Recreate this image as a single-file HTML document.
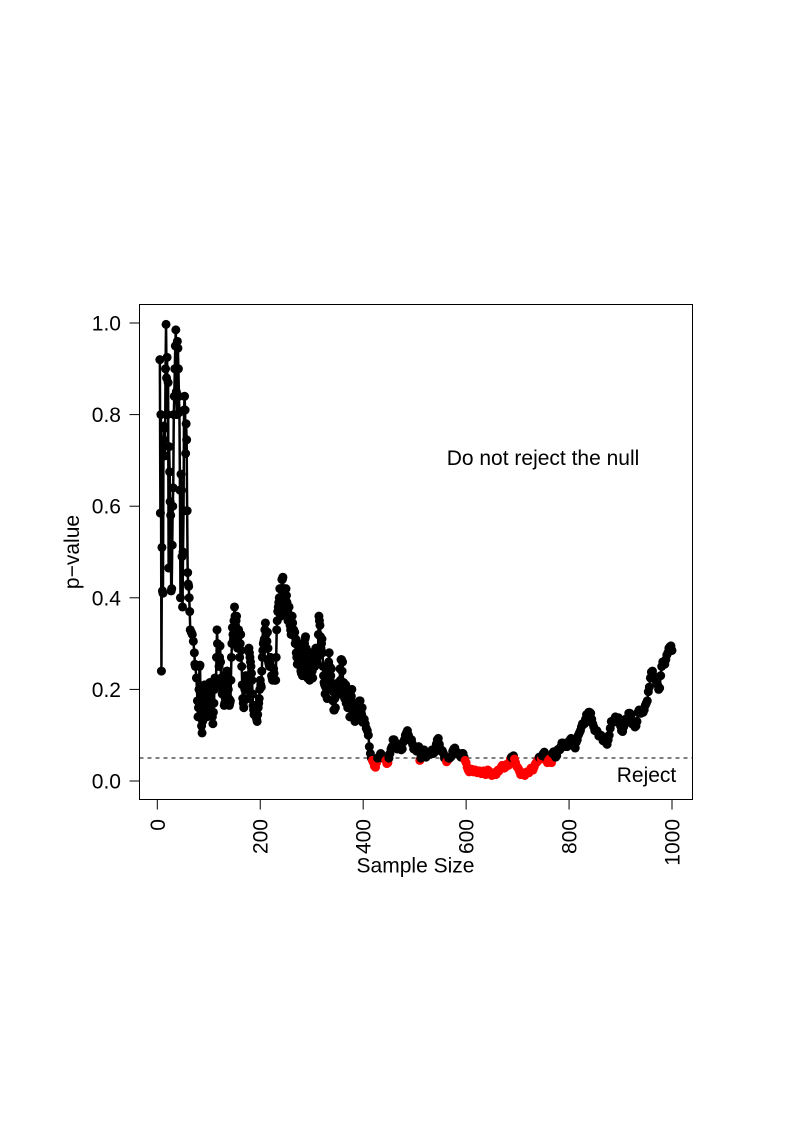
<!DOCTYPE html>
<html>
<head>
<meta charset="utf-8">
<title>p-value by sample size</title>
<style>
html,body{margin:0;padding:0;background:#fff;width:793px;height:1123px;overflow:hidden}
svg{display:block}
text{font-family:"Liberation Sans",sans-serif;fill:#000}
</style>
</head>
<body>
<svg id="chart" width="793" height="1123" viewBox="0 0 793 1123" xmlns="http://www.w3.org/2000/svg"></svg>
<script>
const sampleSizes = [
5,6,7,8,9,10,11,12,13,14,
15,16,17,18,19,20,21,22,23,24,
25,26,27,28,29,30,31,32,33,34,
35,36,37,38,39,40,41,42,43,44,
45,46,47,48,49,50,51,52,53,54,
55,56,57,58,59,60,61,62,63,64,
66,68,70,72,73,74,76,78,79,80,
81,82,83,84,85,86,87,88,89,90,
92,94,96,98,100,102,104,106,108,110,
112,114,116,118,120,122,124,126,128,130,
132,134,136,138,140,142,144,146,148,150,
152,154,156,158,160,162,164,166,168,170,
172,174,176,178,180,182,184,186,188,190,
192,194,196,198,200,202,204,206,208,210,
212,214,216,218,220,222,224,226,228,230,
232,234,236,238,240,242,244,246,248,250,
252,254,256,258,260,262,264,266,268,270,
272,274,276,278,280,282,284,286,288,290,
292,294,296,298,300,302,304,306,308,310,
312,314,316,318,320,322,324,326,328,330,
332,334,336,338,340,342,344,346,348,350,
352,354,356,358,360,362,364,366,368,370,
372,374,376,378,380,382,384,386,388,390,
392,394,396,398,400,402,404,406,408,410,
412,414,416,418,420,422,424,426,428,430,
432,436,440,444,448,452,456,460,464,468,
472,476,480,484,488,492,496,500,504,508,
510,512,516,520,524,528,532,536,540,544,
548,552,556,560,564,568,572,576,580,584,
588,592,596,600,604,608,612,616,620,624,
628,632,636,640,644,648,652,656,660,664,
668,672,676,680,684,688,692,696,700,704,
708,712,716,720,724,728,732,736,740,744,
748,752,756,760,764,768,772,776,780,784,
788,792,796,800,804,808,812,816,820,824,
828,832,836,840,844,848,852,856,860,864,
868,872,876,880,884,888,892,896,900,904,
908,912,916,920,924,928,932,936,940,944,
948,952,956,960,964,968,972,976,980,984,
988,992,996,1000
];
const pValues = [
.92,.585,.80,.24,.51,.415,.41,.745,.775,.77,
.71,.90,.997,.88,.925,.80,.87,.465,.73,.675,
.61,.58,.415,.42,.515,.60,.64,.80,.84,.90,
.95,.985,.85,.80,.96,.945,.90,.84,.805,.635,
.40,.67,.635,.49,.38,.50,.59,.81,.84,.81,
.715,.78,.745,.59,.455,.43,.425,.40,.37,.33,
.325,.32,.305,.28,.255,.25,.225,.175,.14,.16,
.20,.25,.253,.18,.14,.12,.105,.13,.155,.19,
.21,.17,.14,.20,.16,.215,.18,.15,.125,.17,
.225,.215,.33,.27,.25,.295,.225,.19,.21,.165,
.18,.235,.24,.20,.165,.175,.27,.335,.31,.38,
.34,.36,.29,.33,.27,.32,.25,.18,.16,.20,
.23,.21,.18,.29,.27,.25,.22,.165,.145,.15,
.14,.13,.16,.18,.22,.205,.27,.30,.31,.345,
.29,.325,.26,.25,.27,.23,.22,.245,.22,.22,
.33,.37,.39,.42,.36,.44,.445,.40,.37,.42,
.39,.35,.38,.34,.32,.36,.33,.325,.30,.28,
.255,.30,.285,.25,.235,.23,.28,.30,.315,.26,
.225,.27,.22,.28,.255,.225,.27,.25,.29,.26,
.28,.36,.34,.29,.31,.25,.215,.19,.23,.18,
.24,.28,.22,.245,.21,.195,.155,.16,.20,.19,
.215,.19,.22,.265,.26,.215,.18,.21,.18,.16,
.19,.14,.18,.20,.17,.15,.13,.165,.14,.135,
.17,.175,.15,.16,.13,.135,.125,.115,.11,.10,
.075,.06,.05,.045,.04,.032,.03,.04,.05,.052,
.055,.057,.05,.045,.04,.06,.075,.09,.078,.075,
.08,.07,.09,.105,.10,.09,.08,.07,.065,.075,
.045,.05,.065,.06,.057,.06,.065,.06,.07,.09,
.08,.065,.06,.05,.045,.05,.055,.07,.065,.06,
.055,.06,.052,.04,.024,.022,.025,.022,.02,.02,
.02,.018,.02,.018,.022,.016,.014,.016,.018,.022,
.03,.032,.03,.034,.04,.052,.055,.04,.03,.02,
.016,.014,.016,.02,.022,.028,.03,.04,.048,.05,
.055,.063,.05,.045,.042,.06,.062,.055,.07,.075,
.083,.08,.075,.085,.093,.085,.072,.09,.105,.118,
.125,.135,.145,.15,.135,.118,.11,.105,.10,.095,
.09,.083,.09,.115,.13,.135,.135,.138,.12,.108,
.125,.13,.148,.14,.125,.118,.13,.155,.148,.15,
.165,.175,.205,.238,.23,.22,.21,.203,.25,.258,
.265,.28,.293,.285
];
const denseSizes = [
91,93,95,97,99,101,103,105,107,109,
111,113,115,117,119,121,123,125,127,129,
131,133,135,137,139,141,143,145,147,149,
151,153,155,157,159,161,163,165,167,169,
171,173,175,177,179,181,183,185,187,189,
191,193,195,197,199,201,203,205,207,209,
211,213,215,217,219,221,223,225,227,229,
231,233,235,237,239,241,243,245,247,249,
251,253,255,257,259,261,263,265,267,269,
271,273,275,277,279,281,283,285,287,289,
291,293,295,297,299,301,303,305,307,309,
311,313,315,317,319,321,323,325,327,329,
331,333,335,337,339,341,343,345,347,349,
351,353,355,357,359,361,363,365,367,369,
371,373,375,377,379,381,383,385,387,389,
391,393,395,397,399,
434,438,442,446,450,454,458,462,466,470,
474,478,482,486,490,494,498,502,506,514,
518,522,526,530,534,538,542,546,550,554,
558,562,566,570,574,578,582,586,590,594,
598,602,606,610,614,618,622,626,630,634,
638,642,646,650,654,658,662,666,670,674,
678,682,686,690,694,698,702,706,710,714,
718,722,726,730,734,738,742,746,750,754,
758,762,766,770,774,778,782,786,790,794,
798,802,806,810,814,818,822,826,830,834,
838,842,846,850,854,858,862,866,870,874,
878,882,886,890,894,898,902,906,910,914,
918,922,926,930,934,938,942,946,950,954,
958,962,966,970,974,978,982,986,990,994,998
];
const denseValues = [
.17,.19,.16,.17,.18,.19,.20,.165,.14,.15,
.20,.21,.27,.30,.27,.27,.26,.21,.20,.19,
.17,.21,.24,.22,.18,.17,.22,.30,.32,.35,
.36,.35,.31,.30,.30,.30,.285,.21,.17,.18,
.215,.22,.20,.23,.28,.26,.235,.19,.155,.15,
.145,.135,.145,.17,.20,.21,.24,.285,.305,.33,
.32,.305,.29,.255,.26,.25,.225,.23,.235,.22,
.27,.35,.38,.40,.39,.40,.44,.42,.385,.395,
.405,.37,.365,.36,.33,.34,.345,.33,.325,.31,
.27,.28,.29,.27,.24,.235,.255,.29,.31,.29,
.24,.25,.245,.25,.24,.24,.25,.26,.27,.275,
.27,.32,.35,.315,.30,.28,.23,.21,.205,.21,
.21,.26,.25,.23,.20,.175,.155,.18,.195,.20,
.20,.20,.245,.265,.24,.20,.195,.195,.17,.17,
.175,.165,.16,.185,.16,.16,.14,.15,.15,.14,
.155,.175,.16,.145,.128,
.06,.05,.052,.038,.05,.07,.09,.085,.07,.08,
.068,.085,.10,.11,.09,.09,.07,.072,.07,.055,
.068,.052,.062,.058,.068,.062,.08,.093,.07,.066,
.05,.042,.05,.052,.065,.072,.06,.06,.052,.06,
.045,.03,.02,.026,.02,.024,.018,.022,.016,.022,
.014,.024,.018,.012,.018,.014,.024,.026,.034,.028,
.036,.034,.048,.05,.048,.032,.026,.014,.018,.012,
.02,.018,.028,.024,.036,.042,.052,.048,.06,.056,
.04,.048,.04,.064,.052,.068,.068,.083,.075,.08,
.085,.09,.09,.075,.085,.10,.11,.125,.125,.145,
.15,.148,.125,.11,.11,.098,.10,.088,.09,.08,
.10,.13,.128,.14,.13,.13,.11,.118,.135,.135,
.148,.125,.125,.12,.15,.148,.155,.155,.17,.195,
.225,.24,.225,.215,.20,.23,.26,.255,.275,.29,.295
];
const xTickValues = [0,200,400,600,800,1000];
const yTickValues = [0,0.2,0.4,0.6,0.8,1.0];
const yTickLabels = ["0.0","0.2","0.4","0.6","0.8","1.0"];
const rejectThreshold = 0.05;

const NS = "http://www.w3.org/2000/svg";
const svg = document.getElementById("chart");
const box = {left:139.5, right:692.5, top:304.5, bottom:799.5};
function xScale(n){ return 157.3 + n * 0.5147; }
function yScale(p){ return 781 - p * 458; }
function make(tag, attrs, text){
  const el = document.createElementNS(NS, tag);
  for (const k in attrs) el.setAttribute(k, attrs[k]);
  if (text !== undefined) el.textContent = text;
  svg.appendChild(el);
  return el;
}

const records = sampleSizes.map((n,i)=>({n:n,p:pValues[i]}))
  .concat(denseSizes.map((n,i)=>({n:n,p:denseValues[i]})))
  .sort((a,b)=>a.n-b.n);

const frame = make("rect",{x:box.left,y:box.top,width:box.right-box.left,height:box.bottom-box.top,fill:"#fff",stroke:"#000","stroke-width":1});



const thresholdLine = make("line",{x1:box.left,x2:box.right,y1:yScale(rejectThreshold),y2:yScale(rejectThreshold),stroke:"#000","stroke-width":1,"stroke-dasharray":"4 4","shape-rendering":"crispEdges"});



const linePoints = records.map(r=>xScale(r.n).toFixed(2)+","+yScale(r.p).toFixed(2)).join(" ");
const pathLine = make("polyline",{points:linePoints,fill:"none",stroke:"#000","stroke-width":2.5,"stroke-linejoin":"round"});



records.forEach(r=>{
  const dot = make("circle",{cx:xScale(r.n).toFixed(2),cy:yScale(r.p).toFixed(2),r:4.5,fill:r.p<rejectThreshold?"#ff0000":"#000"});
  
  
});

xTickValues.forEach(v=>{
  const x = xScale(v);
  const tick = make("line",{x1:x,x2:x,y1:box.bottom,y2:box.bottom+10,stroke:"#000","stroke-width":1});
  
  
  const label = make("text",{transform:"translate("+(x+7.5)+",819) rotate(-90)","text-anchor":"end","font-size":"21"},String(v));
  
  
});

yTickValues.forEach((v,i)=>{
  const y = yScale(v);
  const tick = make("line",{x1:box.left-10,x2:box.left,y1:y,y2:y,stroke:"#000","stroke-width":1});
  
  
  const label = make("text",{x:121,y:y+7.5,"text-anchor":"end","font-size":"21"},yTickLabels[i]);
  
  
});

const xTitle = make("text",{x:415.5,y:872.5,"text-anchor":"middle","font-size":"21"},"Sample Size");



const yTitle = make("text",{transform:"translate(79,552) rotate(-90)","text-anchor":"middle","font-size":"21"},"p\u2212value");



const keepLabel = make("text",{x:543,y:465,"text-anchor":"middle","font-size":"21"},"Do not reject the null");



const rejectLabel = make("text",{x:646.5,y:782,"text-anchor":"middle","font-size":"21"},"Reject");


</script>
</body>
</html>
